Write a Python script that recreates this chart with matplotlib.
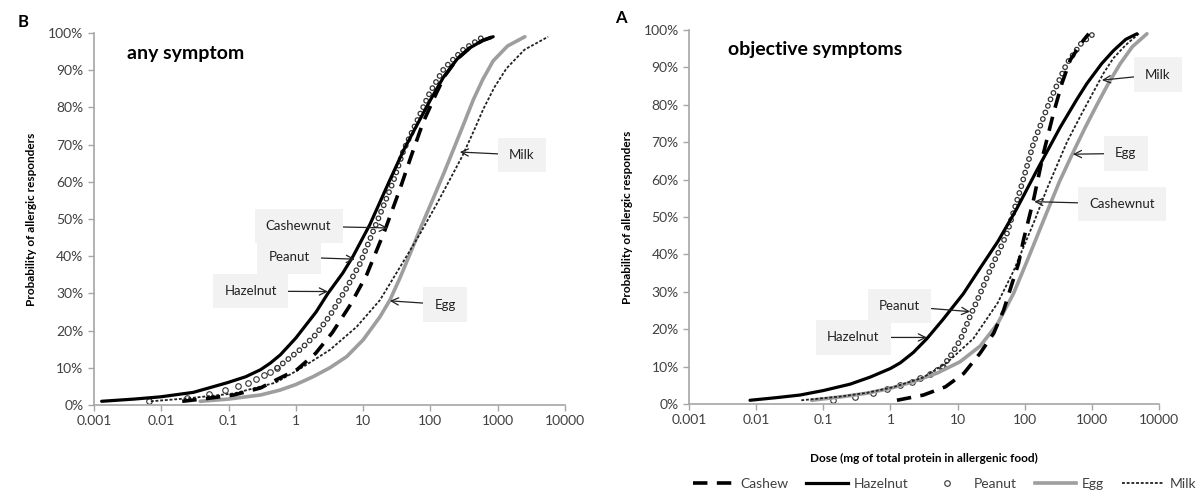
import matplotlib
matplotlib.use('Agg')
import matplotlib.pyplot as plt
from matplotlib.lines import Line2D

plt.rcParams['font.family'] = ['Lato', 'DejaVu Sans']

# ---- any symptom (panel B) : dose (mg protein) vs cumulative % responders
any_hazel_dose = [0.0013, 0.004, 0.0098, 0.03, 0.096, 0.18, 0.3, 0.42, 0.59, 1.0, 2.0, 3.0,
                  5.0, 7.1, 12.6, 25, 40, 62, 100, 155, 250, 386, 600, 857]
any_hazel_pct = [1, 1.6, 2.2, 3.4, 6.0, 7.6, 9.5, 11.3, 13.5, 18, 25, 30,
                 35.5, 40, 48.5, 60.5, 68.5, 75, 82, 88, 93, 96, 98, 99]

any_peanut_dose = [0.0066, 0.024, 0.051, 0.09, 0.138, 0.195, 0.26, 0.34, 0.42, 0.53,
                   1.18, 2.0, 3.2, 5.5, 9.0, 15.9, 28, 40, 62, 98, 160, 307, 575]
any_peanut_pct = [1, 2, 3, 4, 5, 6, 7, 8, 9, 10,
                  15, 19, 24, 31, 38, 49, 60, 68.5, 76, 84, 90.5, 95.5, 98.7]

any_cashew_dose = [0.0205, 0.05, 0.12, 0.3, 0.53, 1.04, 1.97, 3.5, 6.5, 11.3, 21.1, 35.2,
                   52, 78, 124, 164, 250, 386, 600, 857]
any_cashew_pct = [1, 1.8, 2.7, 4.6, 6.9, 9.5, 13.9, 19.5, 27, 35, 47, 58,
                  67, 76, 84, 88.5, 93, 96, 98, 99]

any_egg_dose = [0.038, 0.1, 0.3, 0.58, 1.0, 1.8, 3.2, 5.7, 10, 17.8, 25, 35, 49.5, 75,
                110, 160, 218, 320, 433, 600, 857, 1400, 2535]
any_egg_pct = [1, 1.6, 2.7, 4, 5.5, 7.6, 10, 13, 17.5, 23.7, 28.2, 34, 40.5, 48.5,
               55.5, 62.5, 68.5, 76, 82, 87.5, 92.5, 96.5, 99]

any_milk_dose = [0.007, 0.025, 0.12, 0.5, 1.1, 3.2, 8, 17.8, 39.5, 70, 124, 200, 300,
                 450, 609, 900, 1355, 2500, 5625]
any_milk_pct = [1, 1.8, 3.1, 6, 9.5, 14.8, 21, 28.2, 38.5, 46, 54, 61, 67,
                74, 79.5, 85.5, 90.5, 95.5, 99]

# ---- objective symptoms (panel A)
obj_hazel_dose = [0.0081, 0.02, 0.045, 0.1, 0.25, 0.5, 1.0, 1.4, 2.2, 3.5, 6, 12.2, 22,
                  40, 75, 152, 338, 600, 845, 1400, 2104, 3200, 4700]
obj_hazel_pct = [1, 1.7, 2.4, 3.6, 5.3, 7.2, 9.5, 11, 13.8, 17.5, 22.5, 29.5, 36.5,
                 43.5, 52, 62.5, 74, 81.5, 85.7, 91, 94.5, 97.5, 99]

obj_peanut_dose = [0.14, 0.3, 0.55, 0.9, 1.4, 2.1, 2.8, 3.9, 5.0, 6.0,
                   7.7, 10.9, 15.4, 21.7, 30, 43, 54.4, 85.7, 135, 240, 425, 700, 1060]
obj_peanut_pct = [1, 2, 3, 4, 5, 6, 7, 8, 9, 10,
                  12.6, 17, 23.5, 29.5, 35.5, 41.5, 45.6, 57.2, 69.7, 81.3, 91.1, 96.5, 99]

obj_cashew_dose = [1.25, 3.1, 6.6, 12.4, 21.7, 34.5, 48.6, 65, 81, 96, 135, 190, 268,
                   358, 477, 752, 900]
obj_cashew_pct = [1, 2.4, 4.6, 8.2, 13.6, 18.9, 25.1, 32.3, 37.6, 43.9, 54.5, 67, 77.7,
                  85.7, 92, 97.3, 99]

obj_egg_dose = [0.067, 0.2, 0.45, 1.0, 2.2, 5.0, 10.9, 21.7, 39.5, 68, 110, 200, 330,
                533, 800, 1190, 1800, 2650, 4000, 6620]
obj_egg_pct = [1, 2, 2.9, 4.2, 6, 8.3, 11.3, 15.5, 21.5, 29.5, 38.5, 50, 59.5,
               67.5, 74, 80, 86, 91, 95.5, 99]

obj_milk_dose = [0.047, 0.18, 0.45, 1.1, 3.0, 6.9, 17.2, 39.5, 68, 140, 214, 425, 700,
                 1060, 1500, 2100, 3200, 5000]
obj_milk_pct = [1, 2, 3, 4.5, 7, 11, 17.5, 27, 35.5, 49, 57.5, 70, 77.5,
                83.5, 88.5, 92.5, 96, 99]

x_ticks = [0.001, 0.01, 0.1, 1, 10, 100, 1000, 10000]
x_tick_labels = ['0.001', '0.01', '0.1', '1', '10', '100', '1000', '10000']
y_ticks = list(range(0, 101, 10))

AXIS_GREY = '#a6a6a6'
TEXT_GREY = '#404040'
EGG_GREY = '#9e9e9e'


def draw_peanut(ax, dose, pct):
    # sparse hollow markers in the flat tail, chain of rings in the steep part
    low = [(d, p) for d, p in zip(dose, pct) if p <= 10]
    high = [(d, p) for d, p in zip(dose, pct) if p >= 10]
    ax.plot([d for d, _ in low], [p for _, p in low], ls='none', marker='o', ms=4,
            mfc='white', mec='#333333', mew=0.8, zorder=2)
    hx = [d for d, _ in high]
    hy = [p for _, p in high]
    ax.plot(hx, hy, color='#333333', lw=4.2, ls=(0, (0.01, 1.2)),
            dash_capstyle='round', zorder=2)
    ax.plot(hx, hy, color='white', lw=2.4, ls=(0, (0.01 * 4.2 / 2.4, 1.2 * 4.2 / 2.4)),
            dash_capstyle='round', zorder=2)


def draw_panel(ax, hazel, peanut, cashew, egg, milk):
    draw_peanut(ax, *peanut)
    ax.plot(*egg, color=EGG_GREY, lw=2.6, solid_capstyle='round', solid_joinstyle='round',
            zorder=3)
    ax.plot(*milk, color='#222222', lw=1.3, ls=(0, (1.6, 1.0)), zorder=4)
    ax.plot(*cashew, color='black', lw=2.6, ls=(0, (4, 2.6)), zorder=4)
    ax.plot(*hazel, color='black', lw=2.3, solid_capstyle='round', solid_joinstyle='round',
            zorder=5)

    ax.set_xscale('log')
    ax.set_xlim(0.001, 10000)
    ax.set_ylim(0, 100)
    ax.set_xticks(x_ticks)
    ax.set_xticklabels(x_tick_labels)
    ax.minorticks_off()
    ax.set_yticks(y_ticks)
    ax.set_yticklabels([f'{v}%' for v in y_ticks])
    for side in ('top', 'right'):
        ax.spines[side].set_visible(False)
    for side in ('left', 'bottom'):
        ax.spines[side].set_color(AXIS_GREY)
        ax.spines[side].set_linewidth(1.2)
    ax.tick_params(axis='both', colors=AXIS_GREY, length=4, width=1, labelsize=10,
                   labelcolor=TEXT_GREY)
    ax.set_ylabel('Probability of allergic responders', fontsize=8.5, fontweight='bold')
    ax.yaxis.set_label_coords(-0.12, 0.5)


def label(ax, text, tip, at):
    ax.annotate(text, xy=tip, xytext=at, ha='center', va='center', fontsize=9.5,
                color='#222222', zorder=6,
                bbox=dict(boxstyle='square,pad=0.85', fc='#f2f2f2', ec='none'),
                arrowprops=dict(arrowstyle='->', color='#222222', lw=0.9,
                                shrinkA=0, shrinkB=0, mutation_scale=13))


fig = plt.figure(figsize=(12, 4.97), dpi=100)
ax_b = fig.add_axes([0.0783, 0.1851, 0.3925, 0.7485])
ax_a = fig.add_axes([0.5742, 0.1871, 0.3916, 0.7525])

draw_panel(ax_b, (any_hazel_dose, any_hazel_pct), (any_peanut_dose, any_peanut_pct),
           (any_cashew_dose, any_cashew_pct), (any_egg_dose, any_egg_pct),
           (any_milk_dose, any_milk_pct))
draw_panel(ax_a, (obj_hazel_dose, obj_hazel_pct), (obj_peanut_dose, obj_peanut_pct),
           (obj_cashew_dose, obj_cashew_pct), (obj_egg_dose, obj_egg_pct),
           (obj_milk_dose, obj_milk_pct))

ax_b.text(0.07, 0.944, 'any symptom', transform=ax_b.transAxes, fontsize=14,
          fontweight='bold', ha='left', va='center')
ax_a.text(0.083, 0.949, 'objective symptoms', transform=ax_a.transAxes, fontsize=14,
          fontweight='bold', ha='left', va='center')

ax_a.set_xlabel('Dose (mg of total protein in allergenic food)', fontsize=8.5,
                fontweight='bold')
ax_a.xaxis.set_label_coords(0.5, -0.13)

fig.text(0.015, 0.956, 'B', fontsize=12, fontweight='bold', ha='left', va='center')
fig.text(0.5125, 0.964, 'A', fontsize=12, fontweight='bold', ha='left', va='center')

# callouts, panel B
label(ax_b, 'Cashewnut', (23.3, 47.6), (1.1, 48.1))
label(ax_b, 'Peanut', (7.55, 39.2), (0.8, 39.8))
label(ax_b, 'Hazelnut', (3.0, 30.5), (0.215, 30.6))
label(ax_b, 'Egg', (25, 28), (167, 27))
label(ax_b, 'Milk', (274, 68), (2291, 67.2))

# callouts, panel A
label(ax_a, 'Milk', (1413, 86.6), (9600, 88.1))
label(ax_a, 'Egg', (523, 66.8), (3200, 67))
label(ax_a, 'Cashewnut', (139, 54.1), (2793, 53.5))
label(ax_a, 'Peanut', (15.4, 24.7), (1.37, 26.2))
label(ax_a, 'Hazelnut', (3.49, 17.8), (0.278, 17.8))

handles = [
    Line2D([], [], color='black', lw=2.6, ls=(0, (4, 2.6))),
    Line2D([], [], color='black', lw=2.3),
    Line2D([], [], ls='none', marker='o', ms=4, mfc='white', mec='#333333', mew=0.8),
    Line2D([], [], color=EGG_GREY, lw=2.6),
    Line2D([], [], color='#222222', lw=1.3, ls=(0, (1.6, 1.0))),
]
fig.legend(handles, ['Cashew', 'Hazelnut', 'Peanut', 'Egg', 'Milk'], loc='center',
           bbox_to_anchor=(0.787, 0.026), ncol=5, frameon=False, fontsize=10,
           handlelength=3.0, columnspacing=1.3, handletextpad=0.4,
           labelcolor=TEXT_GREY)

fig.savefig('out.png', dpi=100)
